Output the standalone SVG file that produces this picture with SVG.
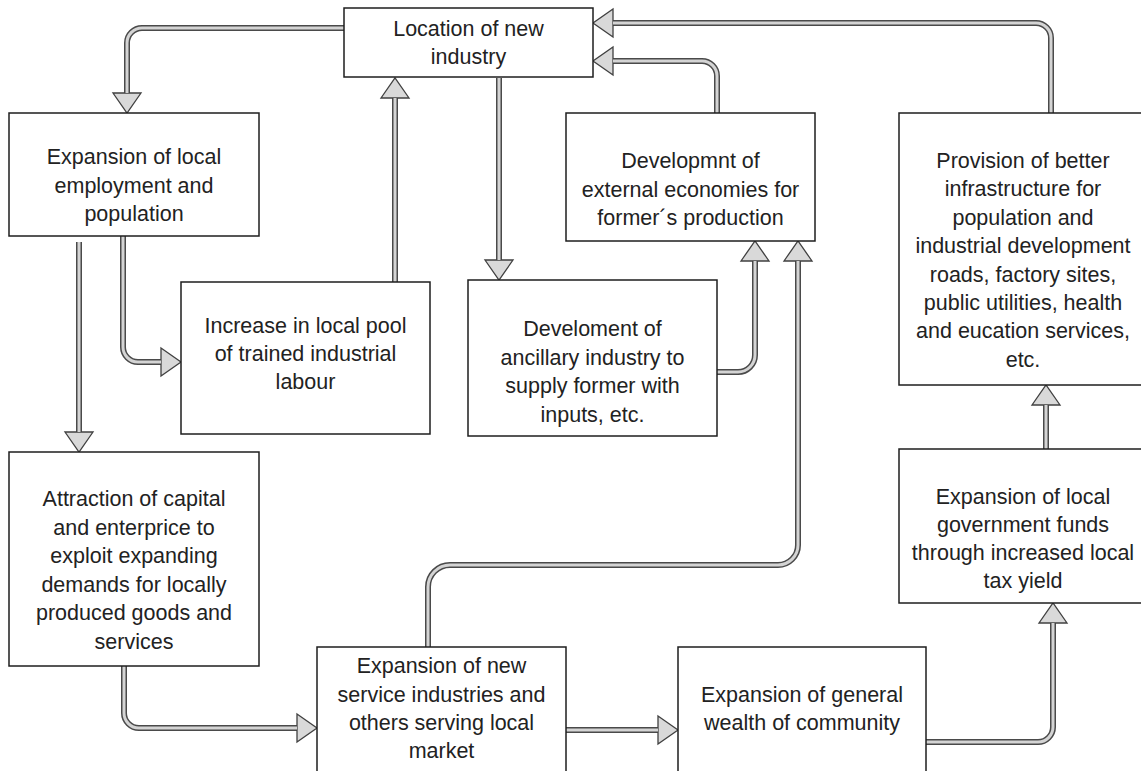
<svg xmlns="http://www.w3.org/2000/svg" width="1141" height="771" viewBox="0 0 1141 771">
<style>
.box{fill:#fff;stroke:#1e1e1e;stroke-width:1.5}
.t{font-family:"Liberation Sans",Arial,sans-serif;font-size:21.5px;fill:#222;text-anchor:middle}
.so{fill:none;stroke:#4a4a4a;stroke-width:6;marker-end:url(#head)}
.si{fill:none;stroke:#d4d4d4;stroke-width:3}
</style>
<defs>
<marker id="head" markerUnits="userSpaceOnUse" markerWidth="24" markerHeight="34" refX="0" refY="15" orient="auto" overflow="visible">
<path d="M0,1 L20,15 L0,29 Z" fill="#d9d9d9" stroke="#404040" stroke-width="1.3" stroke-linejoin="miter"/>
</marker>
</defs>
<rect width="1141" height="771" fill="#fff"/>
<g id="connectors">
<path class="so" d="M344,28 H142 A15,15 0 0 0 127,43 V93"/>
<path class="si" d="M344,28 H142 A15,15 0 0 0 127,43 V93"/>
<path class="so" d="M395,282 V98"/>
<path class="si" d="M395,282 V98"/>
<path class="so" d="M499,78 V260"/>
<path class="si" d="M499,78 V260"/>
<path class="so" d="M123,236 V347 A15,15 0 0 0 138,362 H161"/>
<path class="si" d="M123,236 V347 A15,15 0 0 0 138,362 H161"/>
<path class="so" d="M79,242 V432"/>
<path class="si" d="M79,242 V432"/>
<path class="so" d="M124,666 V713 A15,15 0 0 0 139,728 H297"/>
<path class="si" d="M124,666 V713 A15,15 0 0 0 139,728 H297"/>
<path class="so" d="M566,730 H658"/>
<path class="si" d="M566,730 H658"/>
<path class="so" d="M926,742 H1038 A15,15 0 0 0 1053,727 V623"/>
<path class="si" d="M926,742 H1038 A15,15 0 0 0 1053,727 V623"/>
<path class="so" d="M1046,449 V405"/>
<path class="si" d="M1046,449 V405"/>
<path class="so" d="M1051,113 V38 A15,15 0 0 0 1036,23 H613"/>
<path class="si" d="M1051,113 V38 A15,15 0 0 0 1036,23 H613"/>
<path class="so" d="M717,113 V76 A15,15 0 0 0 702,61 H613"/>
<path class="si" d="M717,113 V76 A15,15 0 0 0 702,61 H613"/>
<path class="so" d="M717,372 H738 A17,17 0 0 0 755,355 V261"/>
<path class="si" d="M717,372 H738 A17,17 0 0 0 755,355 V261"/>
<path class="so" d="M428,647 V587 A22,22 0 0 1 450,565 H778 A20,20 0 0 0 798,545 V261"/>
<path class="si" d="M428,647 V587 A22,22 0 0 1 450,565 H778 A20,20 0 0 0 798,545 V261"/>
</g>
<g id="n-location">
<rect class="box" x="344" y="8" width="249" height="69"/>
<text class="t" x="468.5" y="36">Location of new</text>
<text class="t" x="468.5" y="64">industry</text>
</g>
<g id="n-expansion-employment">
<rect class="box" x="9" y="113" width="250" height="123"/>
<text class="t" x="134" y="164">Expansion of local</text>
<text class="t" x="134" y="192.5">employment and</text>
<text class="t" x="134" y="221">population</text>
</g>
<g id="n-labour">
<rect class="box" x="181" y="282" width="249" height="152"/>
<text class="t" x="305.5" y="333">Increase in local pool</text>
<text class="t" x="305.5" y="361">of trained industrial</text>
<text class="t" x="305.5" y="389">labour</text>
</g>
<g id="n-ancillary">
<rect class="box" x="468" y="280" width="249" height="156"/>
<text class="t" x="592.5" y="336">Develoment of</text>
<text class="t" x="592.5" y="364.5">ancillary industry to</text>
<text class="t" x="592.5" y="393">supply former with</text>
<text class="t" x="592.5" y="421.5">inputs, etc.</text>
</g>
<g id="n-external">
<rect class="box" x="566" y="113" width="249" height="128"/>
<text class="t" x="690.5" y="168">Developmnt of</text>
<text class="t" x="690.5" y="196.5">external economies for</text>
<text class="t" x="690.5" y="225">former´s production</text>
</g>
<g id="n-infrastructure">
<rect class="box" x="899" y="113" width="249" height="272"/>
<text class="t" x="1023" y="168">Provision of better</text>
<text class="t" x="1023" y="196.4">infrastructure for</text>
<text class="t" x="1023" y="224.8">population and</text>
<text class="t" x="1023" y="253.2">industrial development</text>
<text class="t" x="1023" y="281.6">roads, factory sites,</text>
<text class="t" x="1023" y="310">public utilities, health</text>
<text class="t" x="1023" y="338.4">and eucation services,</text>
<text class="t" x="1023" y="366.8">etc.</text>
</g>
<g id="n-government">
<rect class="box" x="899" y="449" width="249" height="154"/>
<text class="t" x="1023" y="504">Expansion of local</text>
<text class="t" x="1023" y="532">government funds</text>
<text class="t" x="1023" y="560">through increased local</text>
<text class="t" x="1023" y="588">tax yield</text>
</g>
<g id="n-attraction">
<rect class="box" x="9" y="452" width="250" height="214"/>
<text class="t" x="134" y="506">Attraction of capital</text>
<text class="t" x="134" y="534.6">and enterprice to</text>
<text class="t" x="134" y="563.2">exploit expanding</text>
<text class="t" x="134" y="591.8">demands for locally</text>
<text class="t" x="134" y="620.4">produced goods and</text>
<text class="t" x="134" y="649">services</text>
</g>
<g id="n-service">
<rect class="box" x="317" y="647" width="249" height="140"/>
<text class="t" x="441.5" y="673">Expansion of new</text>
<text class="t" x="441.5" y="701.5">service industries and</text>
<text class="t" x="441.5" y="730">others serving local</text>
<text class="t" x="441.5" y="758">market</text>
</g>
<g id="n-wealth">
<rect class="box" x="678" y="647" width="248" height="140"/>
<text class="t" x="802" y="702">Expansion of general</text>
<text class="t" x="802" y="730">wealth of community</text>
</g>
</svg>
